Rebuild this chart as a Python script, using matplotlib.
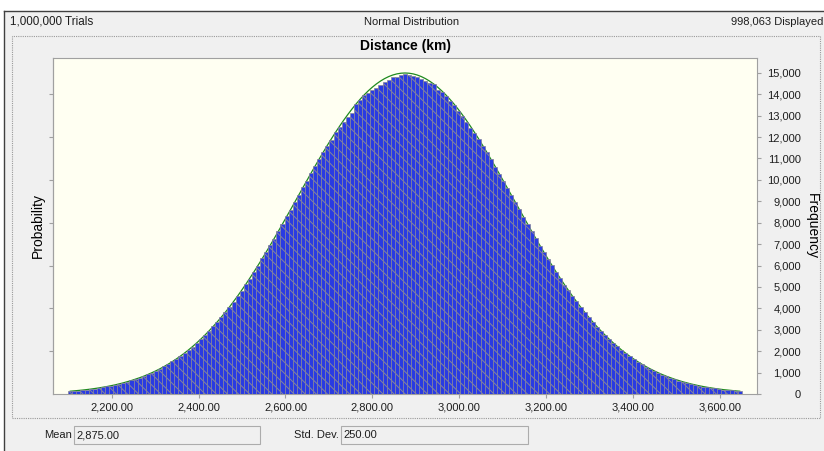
import numpy as np
import matplotlib
matplotlib.use("Agg")
import matplotlib.pyplot as plt
from matplotlib.patches import Rectangle
from matplotlib.lines import Line2D

plt.rcParams["font.family"] = ["Liberation Sans", "DejaVu Sans"]
plt.rcParams["hatch.linewidth"] = 0.7

W, H = 824, 451   # output size in px (dpi 100)

# ---------- data ----------
X_LO, X_HI = 2100.0, 3650.0          # displayed range (mean +/- 3.1 sd)
MEAN, STD = 2875.0, 250.0
TRIALS, DISPLAYED = 1_000_000, 998_063

# frequency per bin, left to right
freq = [128, 149, 160, 186, 201, 231, 250, 287, 309, 353, 382, 431, 466, 525,
        569, 636, 688, 765, 826, 915, 987, 1090, 1172, 1291, 1386, 1519, 1629, 1778,
        1905, 2071, 2214, 2398, 2553, 2761, 2938, 3160, 3352, 3597, 3806, 4074, 4301,
        4588, 4829, 5136, 5391, 5718, 5987, 6330, 6609, 6965, 7254, 7623, 7920, 8297,
        8602, 8978, 9285, 9660, 9965, 10338, 10630, 10995, 11284, 11560, 11880, 12238,
        12490, 12690, 12930, 13120, 13525, 13745, 13950, 14060, 14210, 14300, 14450,
        14590, 14640, 14820, 14790, 14880, 14930,
        14895, 14850, 14810, 14700, 14620, 14540, 14460, 14210, 14120, 13900, 13700,
        13480, 13230, 12960, 12700, 12440, 12190, 11900, 11600, 11290, 10960, 10600,
        10290, 9950, 9630, 9290, 8970, 8630, 8260,
        7950, 7590, 7290, 6930, 6640, 6300, 6010, 5690, 5420, 5110, 4850, 4560, 4320,
        4050, 3830, 3580, 3370, 3140, 2955, 2745, 2572, 2381, 2228, 2057, 1920, 1764,
        1645, 1505,
        1401, 1277, 1186, 1078, 999, 904, 837, 755, 698, 626, 579, 516, 476, 423, 390,
        345, 318, 279, 257, 225, 207, 180, 165, 143, 132]

# green fitted normal curve, value at each bin centre
fit = [130, 146, 163, 183, 204, 228, 254, 283, 314, 349,
       386, 427, 472, 521, 574, 631, 693, 760, 832, 910,
       994, 1084, 1180, 1284, 1394, 1512, 1638, 1771, 1913, 2063,
       2222, 2390, 2566, 2752, 2947, 3151, 3365, 3588, 3820, 4062,
       4314, 4574, 4844, 5122, 5408, 5703, 6004, 6313, 6628, 6949,
       7275, 7606, 7941, 8279, 8619, 8960, 9302, 9643, 9982, 10319,
       10652, 10980, 11303, 11618, 11926, 12224, 12512, 12789, 13053, 13304,
       13541, 13762, 13968, 14157, 14328, 14480, 14614, 14728, 14822, 14895,
       14948, 14979, 14990, 14979, 14948, 14895, 14822, 14728, 14614, 14480,
       14328, 14157, 13968, 13762, 13541, 13304, 13053, 12789, 12512, 12224,
       11926, 11618, 11303, 10980, 10652, 10319, 9982, 9643, 9302, 8960,
       8619, 8279, 7941, 7606, 7275, 6949, 6628, 6313, 6004, 5703,
       5408, 5122, 4844, 4574, 4314, 4062, 3820, 3588, 3365, 3151,
       2947, 2752, 2566, 2390, 2222, 2063, 1913, 1771, 1638, 1512,
       1394, 1284, 1180, 1084, 994, 910, 832, 760, 693, 631,
       574, 521, 472, 427, 386, 349, 314, 283, 254, 228,
       204, 183, 163, 146, 130]

x_ticks = [2200, 2400, 2600, 2800, 3000, 3200, 3400, 3600]
freq_ticks = list(range(0, 16000, 1000))
prob_ticks = [0.002, 0.004, 0.006, 0.008, 0.010, 0.012, 0.014]

edges = np.linspace(X_LO, X_HI, len(freq) + 1)
centers = (edges[:-1] + edges[1:]) / 2
bw = edges[1] - edges[0]

BG = "#f0f0f0"
GRID = "#a0a0a0"
TXT = "#1e1e1e"


def fx(x):
    return x / W


def fy(y):
    return 1 - y / H


fig = plt.figure(figsize=(W / 100, H / 100), dpi=100, facecolor="white")

# window background + dark top/left edge (drawn under the axes)
fig.patches.append(Rectangle((fx(4), 0), 1 - fx(4), fy(11), transform=fig.transFigure,
                             facecolor=BG, edgecolor="none", zorder=-10))
fig.lines.append(Line2D([fx(4), 1], [fy(11), fy(11)], transform=fig.transFigure,
                        color="#404040", lw=1, zorder=-9))
fig.lines.append(Line2D([fx(4), fx(4)], [0, fy(11)], transform=fig.transFigure,
                        color="#404040", lw=1, zorder=-9))
# dotted chart frame
fig.patches.append(Rectangle((fx(12), fy(418)), fx(820) - fx(12), fy(36) - fy(418),
                             transform=fig.transFigure, fill=False, edgecolor="#9a9a9a",
                             lw=0.8, ls=(0, (1, 1)), zorder=-8))

# header strip
fig.text(fx(10), fy(22), f"{TRIALS:,} Trials", ha="left", va="center", fontsize=8.4, color=TXT)
fig.text(fx(412), fy(22), "Normal Distribution", ha="center", va="center", fontsize=8, color=TXT)
fig.text(fx(823), fy(22), f"{DISPLAYED:,} Displayed", ha="right", va="center", fontsize=8, color=TXT)
fig.text(fx(405), fy(46), "Distance (km)", ha="center", va="center", fontsize=10,
         fontweight="bold", color="black")

# ---------- histogram ----------
ax = fig.add_axes([fx(53), fy(394), fx(757) - fx(53), fy(58) - fy(394)])
ax.set_facecolor("#fffff2")
ax.plot(centers, fit, color="#1f8a1f", lw=0.9, zorder=2)
ax.bar(centers, freq, width=bw, color="#2a3be2", edgecolor="#84849a", linewidth=0.5,
       hatch="\\\\\\", zorder=3)
ax.set_xlim(2065, 3685)
ax.set_ylim(0, 15690)
for s in ax.spines.values():
    s.set_color(GRID)

ax.set_xticks(x_ticks, [f"{v:,.2f}" for v in x_ticks])
ax.tick_params(axis="x", length=3, color=GRID, labelsize=8, labelcolor=TXT, pad=3)

ax.yaxis.tick_right()
ax.set_yticks(freq_ticks, [f"{v:,}" for v in freq_ticks], ha="right")
ax.tick_params(axis="y", length=3, color=GRID, labelsize=8, labelcolor=TXT, pad=28.5)

sec = ax.secondary_yaxis("left", functions=(lambda f: f / TRIALS, lambda p: p * TRIALS))
sec.set_yticks(prob_ticks)
sec.set_yticklabels([])
sec.tick_params(length=3, color=GRID)
sec.spines["left"].set_color(GRID)

fig.text(fx(38), fy(226), "Probability", rotation=90, ha="center", va="center",
         fontsize=10, color="black")
fig.text(fx(812), fy(226), "Frequency", rotation=270, ha="center", va="center",
         fontsize=10, color="black")

# ---------- footer: parameter boxes ----------
fig.text(fx(72), fy(435), "Mean", ha="right", va="center", fontsize=8, color=TXT)
fig.patches.append(Rectangle((fx(74), fy(444)), fx(260) - fx(74), fy(426) - fy(444),
                             transform=fig.transFigure, facecolor=BG, edgecolor="#acacac", lw=0.8))
fig.text(fx(76), fy(435), f"{MEAN:,.2f}", ha="left", va="center", fontsize=8, color=TXT)
fig.text(fx(339), fy(435), "Std. Dev.", ha="right", va="center", fontsize=8, color=TXT)
fig.patches.append(Rectangle((fx(341), fy(444)), fx(528) - fx(341), fy(426) - fy(444),
                             transform=fig.transFigure, facecolor=BG, edgecolor="#acacac", lw=0.8))
fig.text(fx(343), fy(435), f"{STD:,.2f}", ha="left", va="center", fontsize=8, color=TXT)

fig.savefig("out.png", dpi=100, facecolor="white")
